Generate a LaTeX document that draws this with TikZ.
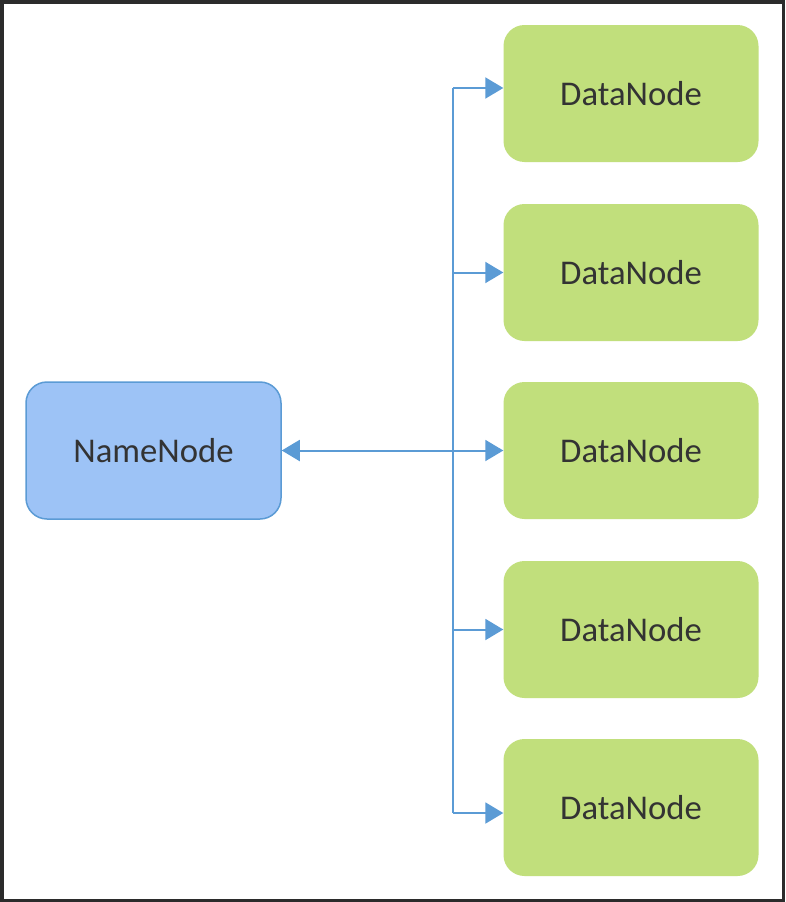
\documentclass[tikz,border=0pt]{standalone}
\usepackage{fontspec}
\setmainfont{Carlito}
\usetikzlibrary{arrows.meta}
\definecolor{linkblue}{HTML}{5B9BD5}
\definecolor{namefill}{HTML}{9DC3F6}
\definecolor{datafill}{HTML}{C1DF7C}
\definecolor{labeltext}{HTML}{333333}
\definecolor{framegray}{HTML}{2B2B2B}
\begin{document}
\begin{tikzpicture}[x=1pt,y=-1pt,
  nodebox/.style={rounded corners=21pt, minimum width=255pt, minimum height=137pt,
    inner sep=0pt, text=labeltext, font=\fontsize{34.7}{38}\selectfont},
  namebox/.style={nodebox, fill=namefill, draw=linkblue, line width=1.5pt},
  databox/.style={nodebox, fill=datafill},
  link/.style={draw=linkblue, line width=2pt},
  tip/.style={-{Triangle[length=18pt,width=21pt]}}
]
\useasboundingbox (0,0) rectangle (785,902);
\fill[white] (0,0) rectangle (785,902);
\draw[framegray, line width=3.5pt] (1.75,1.75) rectangle (783.25,900.25);

% cluster nodes
\node[namebox] (nn) at (153.5,450.5) {NameNode};
\node[databox] (d1) at (631,93.5) {DataNode};
\node[databox] (d2) at (631,272.5) {DataNode};
\node[databox] (d3) at (631,450.5) {DataNode};
\node[databox] (d4) at (631,629.5) {DataNode};
\node[databox] (d5) at (631,807.5) {DataNode};

% junction points on the trunk line
\coordinate (j1) at (453,88);
\coordinate (j2) at (453,272.5);
\coordinate (j3) at (453,450.5);
\coordinate (j4) at (453,629.5);
\coordinate (j5) at (453,813);

\draw[link] (j1) -- (j5);
\draw[link, tip] (j1) -- (j1 -| d1.west);
\draw[link, tip] (j2) -- (d2.west);
\draw[link, tip] (j4) -- (d4.west);
\draw[link, tip] (j5) -- (j5 -| d5.west);
\draw[link, {Triangle[length=18pt,width=21pt]}-{Triangle[length=18pt,width=21pt]}] (nn.east) -- (d3.west);
\end{tikzpicture}
\end{document}
